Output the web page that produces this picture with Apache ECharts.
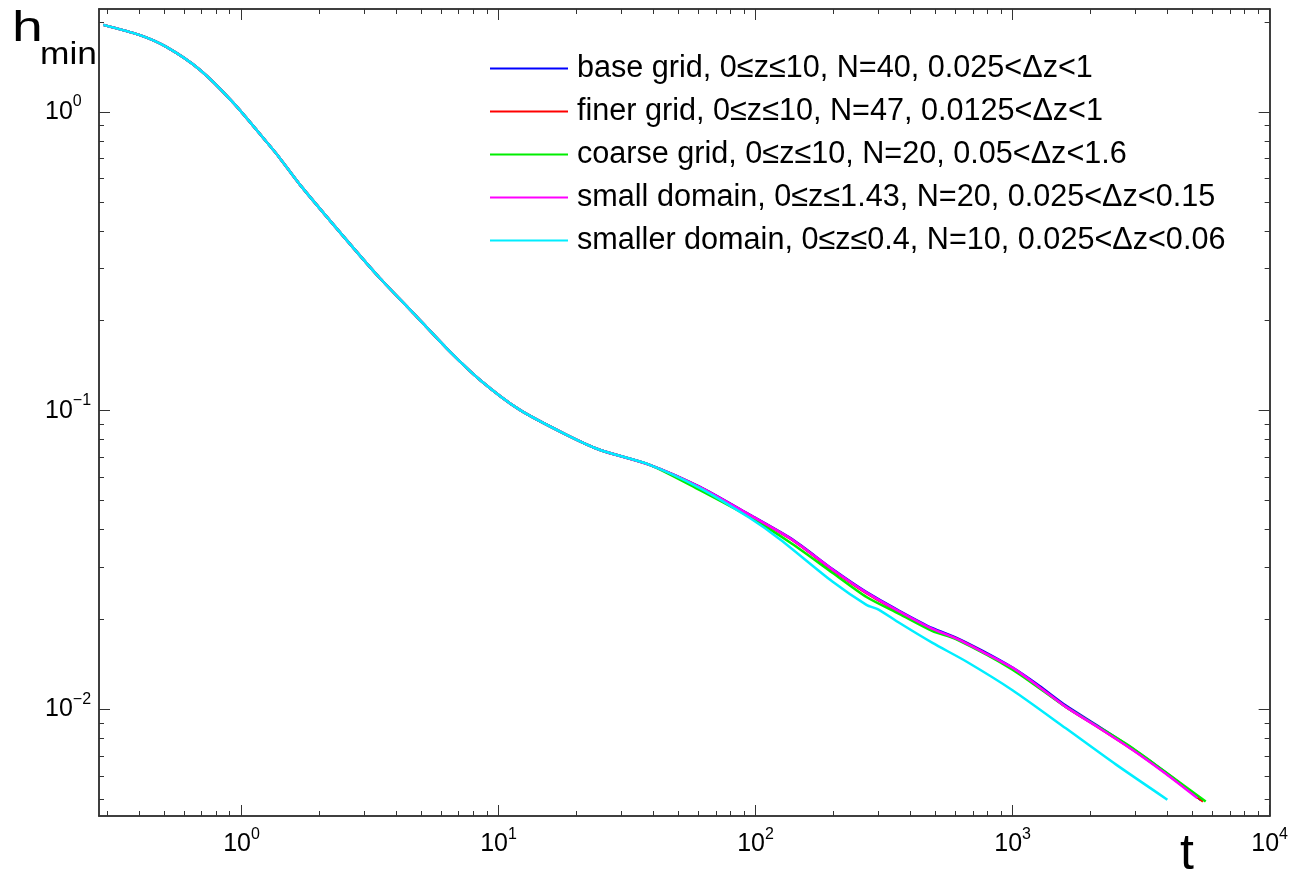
<!DOCTYPE html>
<html><head><meta charset="utf-8">
<script src="https://cdn.jsdelivr.net/npm/echarts@6/dist/echarts.min.js"></script>
<style>html,body{margin:0;padding:0;background:#fff}#c{width:1291px;height:873px}</style>
</head><body><div id="c"></div>
<script>
const FONT = '"Liberation Sans", Arial, Helvetica, sans-serif';

// ---- series names ----
const seriesNames = [
  'base grid, 0\u2264z\u226410, N=40, 0.025<\u0394z<1',
  'finer grid, 0\u2264z\u226410, N=47, 0.0125<\u0394z<1',
  'coarse grid, 0\u2264z\u226410, N=20, 0.05<\u0394z<1.6',
  'small domain, 0\u2264z\u22641.43, N=20, 0.025<\u0394z<0.15',
  'smaller domain, 0\u2264z\u22640.4, N=10, 0.025<\u0394z<0.06'
];
const seriesColors = ['#0000ff', '#ff0000', '#00ee00', '#ff00ff', '#00eeff'];

// ---- shared early part (all runs coincide) ----
const tEarly = [0.29, 0.40, 0.51, 0.69, 0.93, 1.26, 1.41, 1.69, 2.56, 3.45, 4.64, 6.27, 8.45, 12.1, 18.4, 24.7, 38.7];
const hEarly = [1.955, 1.81, 1.65, 1.382, 1.072, 0.788, 0.700, 0.570, 0.373, 0.278, 0.213, 0.162, 0.127, 0.1006, 0.0830, 0.0740, 0.0659];

// ---- late parts, per run ----
const tBase = [60.5, 94.7, 139, 199, 270, 362, 488, 602, 764, 999, 1269, 1611, 2171, 2924, 3944, 5400];
const hBase = [0.0557, 0.0449, 0.0371, 0.0295, 0.0247, 0.0214, 0.0187, 0.0174, 0.0157, 0.0138, 0.0120, 0.0103, 0.00875, 0.00740, 0.00615, 0.00498];

const tFiner = [60.5, 94.7, 139, 199, 270, 362, 488, 602, 764, 999, 1269, 1611, 2171, 2924, 3944, 5510];
const hFiner = [0.0555, 0.0447, 0.0369, 0.0293, 0.0245, 0.0212, 0.0185, 0.0173, 0.0156, 0.0137, 0.0119, 0.0102, 0.00868, 0.00735, 0.00612, 0.00492];

const tCoarse = [60.5, 94.7, 139, 199, 270, 362, 488, 602, 999, 1611, 2171, 2924, 3944, 5640];
const hCoarse = [0.0543, 0.0441, 0.0358, 0.0287, 0.0238, 0.0209, 0.0183, 0.0172, 0.0136, 0.0102, 0.00872, 0.00743, 0.00616, 0.00492];

const tSmall = [60.5, 94.7, 139, 199, 270, 362, 488, 602, 764, 999, 1269, 1611, 2171, 2924, 3944, 5230];
const hSmall = [0.0556, 0.0448, 0.0370, 0.0294, 0.0246, 0.0213, 0.0186, 0.0173, 0.0156, 0.0138, 0.0119, 0.0102, 0.00867, 0.00733, 0.00609, 0.00505];

const tSmaller = [60.5, 94.7, 125, 199, 270, 301, 362, 488, 658, 999, 1611, 2520, 4000];
const hSmaller = [0.0552, 0.0438, 0.0370, 0.0268, 0.0224, 0.0216, 0.0195, 0.0167, 0.0145, 0.0116, 0.00865, 0.00655, 0.00499];

// ---- axis ranges and ticks ----
const X_MIN = 0.279, X_MAX = 10000;
const Y_MIN = 0.0044, Y_MAX = 2.21;
const xMajor = [1, 10, 100, 1000, 10000];
const xMinor = [0.3, 0.4, 0.5, 0.6, 0.7, 0.8, 0.9, 2, 3, 4, 5, 6, 7, 8, 9, 20, 30, 40, 50, 60, 70, 80, 90,
                200, 300, 400, 500, 600, 700, 800, 900, 2000, 3000, 4000, 5000, 6000, 7000, 8000, 9000];
const yMajor = [0.01, 0.1, 1];
const yMinor = [0.005, 0.006, 0.007, 0.008, 0.009, 0.02, 0.03, 0.04, 0.05, 0.06, 0.07, 0.08, 0.09,
                0.2, 0.3, 0.4, 0.5, 0.6, 0.7, 0.8, 0.9, 2];

const tLate = [tBase, tFiner, tCoarse, tSmall, tSmaller];
const hLate = [hBase, hFiner, hCoarse, hSmall, hSmaller];

function pow10Label(v) {
  const e = Math.round(Math.log10(v));
  const s = e < 0 ? '\u2212' + (-e) : String(e);
  return '{b|10}{s|' + s + '}';
}
const richLbl = {
  b: { fontSize: 25, lineHeight: 25, fontFamily: FONT, color: '#000' },
  s: { fontSize: 16, lineHeight: 16, fontFamily: FONT, color: '#000', padding: [0, 0, 20, 0] }
};
const lineCol = '#333';

function axis(kind, pos, ticks, len, withLabel) {
  const a = {
    type: 'log', logBase: 10, position: pos,
    min: kind === 'x' ? X_MIN : Y_MIN, max: kind === 'x' ? X_MAX : Y_MAX,
    axisLine: { show: true, onZero: false, lineStyle: { color: lineCol, width: 1.5 } },
    axisTick: { show: true, inside: true, length: len, customValues: ticks, lineStyle: { color: lineCol, width: 1 } },
    axisLabel: { show: false },
    splitLine: { show: false }, minorTick: { show: false }, minorSplitLine: { show: false }
  };
  if (withLabel) {
    a.axisLabel = { show: true, customValues: ticks, formatter: pow10Label, rich: richLbl,
                    margin: kind === 'x' ? 16 : 54, align: kind === 'x' ? 'center' : 'left' };
  }
  return a;
}

const series = seriesNames.map((name, i) => ({
  name, type: 'line', xAxisIndex: 0, yAxisIndex: 0,
  showSymbol: false, symbol: 'none', smooth: 0.25,
  lineStyle: { color: seriesColors[i], width: 2.5 },
  itemStyle: { color: seriesColors[i] },
  data: tEarly.concat(tLate[i]).map((t, k) => [t, hEarly.concat(hLate[i])[k]])
}));

const chart = echarts.init(document.getElementById('c'), null, { renderer: 'canvas' });
chart.setOption({
  animation: false,
  backgroundColor: '#fff',
  grid: { left: 99, top: 9, width: 1172, height: 807, containLabel: false },
  xAxis: [
    axis('x', 'bottom', xMajor, 11, true),
    axis('x', 'bottom', xMinor, 5, false),
    axis('x', 'top', xMajor, 11, false),
    axis('x', 'top', xMinor, 5, false)
  ],
  yAxis: [
    axis('y', 'left', yMajor, 11, true),
    axis('y', 'left', yMinor, 5, false),
    axis('y', 'right', yMajor, 11, false),
    axis('y', 'right', yMinor, 5, false)
  ],
  legend: {
    orient: 'vertical', left: 490, top: 53, padding: 0,
    itemWidth: 78, itemHeight: 30, itemGap: 12, selectedMode: false,
    icon: 'path://M0,14L78,14L78,16L0,16Z',
    textStyle: { fontSize: 30.6, lineHeight: 30, fontFamily: FONT, color: '#000', padding: [0, 0, 0, 4] },
    data: seriesNames
  },
  graphic: [
    { type: 'text', x: 12, y: 29, scaleX: 1.32, style: { x: 0, y: 0, text: 'h', font: '42px ' + FONT, fill: '#000', verticalAlign: 'middle' } },
    { type: 'text', x: 40, y: 55, scaleX: 1.14, style: { x: 0, y: 0, text: 'min', font: '31px ' + FONT, fill: '#000', verticalAlign: 'middle' } },
    { type: 'text', x: 1180, y: 855, style: { x: 0, y: 0, text: 't', font: '50px ' + FONT, fill: '#000', verticalAlign: 'middle' } }
  ],
  series
});
</script></body></html>
